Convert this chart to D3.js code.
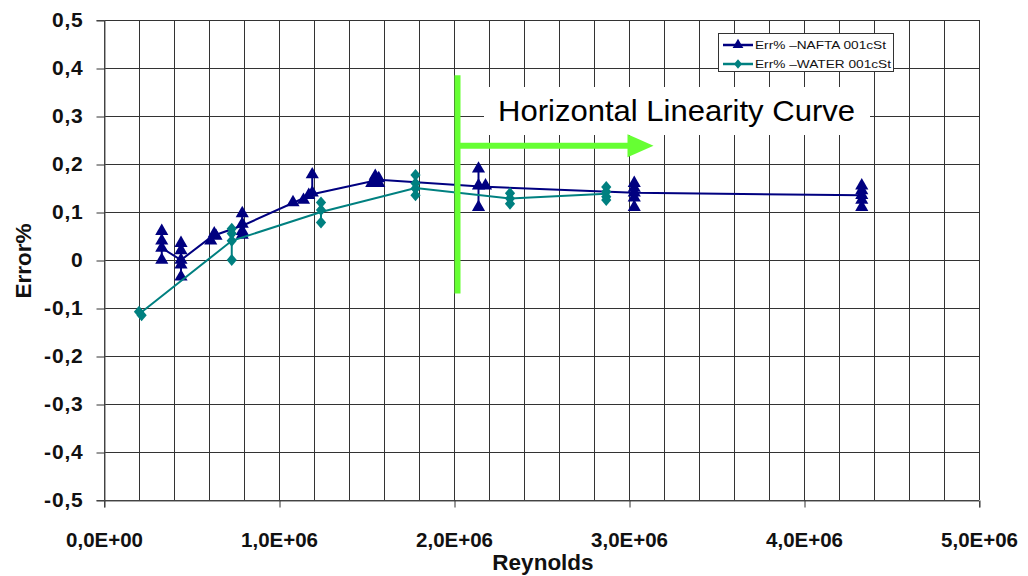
<!DOCTYPE html>
<html>
<head>
<meta charset="utf-8">
<script src="https://cdn.jsdelivr.net/npm/d3@7"></script>
<style>
  html, body { margin: 0; padding: 0; background: #fff; }
  svg { display: block; font-family: Arial, "Liberation Sans", sans-serif; }
</style>
</head>
<body>
<svg id="chart" width="1028" height="576"></svg>
<script>
// ---------- DATA ----------
const yTicks = [-0.5, -0.4, -0.3, -0.2, -0.1, 0, 0.1, 0.2, 0.3, 0.4, 0.5];
const yTickLabels = ["-0,5", "-0,4", "-0,3", "-0,2", "-0,1", "0", "0,1", "0,2", "0,3", "0,4", "0,5"];
const xTicks = [0, 1e6, 2e6, 3e6, 4e6, 5e6];
const xTickLabels = ["0,0E+00", "1,0E+06", "2,0E+06", "3,0E+06", "4,0E+06", "5,0E+06"];
const xMinorStep = 2e5;

// NAFTA measured points (Reynolds, Error%)
const naftaRe  = [3.3e5, 3.3e5, 3.3e5, 3.3e5,
                  4.4e5, 4.4e5, 4.4e5, 4.4e5, 4.4e5,
                  6.1e5, 6.3e5, 6.4e5,
                  7.9e5, 7.9e5, 7.9e5, 7.9e5,
                  1.08e6, 1.14e6, 1.17e6, 1.19e6, 1.19e6,
                  1.53e6, 1.55e6, 1.57e6, 1.57e6,
                  2.14e6, 2.14e6, 2.14e6, 2.18e6,
                  3.03e6, 3.03e6, 3.03e6, 3.03e6, 3.03e6,
                  4.33e6, 4.33e6, 4.33e6, 4.33e6, 4.33e6];
const naftaErr = [0.06, 0.04, 0.025, 0.0,
                  0.035, 0.02, 0.0, -0.01, -0.035,
                  0.04, 0.055, 0.05,
                  0.097, 0.075, 0.06, 0.052,
                  0.12, 0.125, 0.135, 0.178, 0.14,
                  0.16, 0.175, 0.17, 0.16,
                  0.19, 0.155, 0.11, 0.155,
                  0.16, 0.15, 0.14, 0.13, 0.11,
                  0.155, 0.145, 0.135, 0.125, 0.11];
// NAFTA trend line
const naftaLineRe  = [3.3e5, 4.4e5, 6.2e5, 8.0e5, 1.19e6, 1.57e6, 2.15e6, 3.03e6, 4.33e6];
const naftaLineErr = [0.025, 0.0, 0.05, 0.073, 0.137, 0.167, 0.153, 0.14, 0.135];

// WATER measured points
const waterRe  = [2.0e5, 2.15e5,
                  7.3e5, 7.3e5, 7.3e5, 7.3e5,
                  1.24e6, 1.24e6, 1.24e6,
                  1.78e6, 1.78e6, 1.78e6, 1.78e6,
                  2.32e6, 2.32e6, 2.32e6,
                  2.87e6, 2.87e6, 2.87e6, 2.87e6];
const waterErr = [-0.108, -0.115,
                  0.065, 0.055, 0.04, 0.0,
                  0.12, 0.104, 0.078,
                  0.177, 0.16, 0.149, 0.135,
                  0.139, 0.128, 0.117,
                  0.152, 0.142, 0.132, 0.125];
// WATER trend line
const waterLineRe  = [2.1e5, 7.3e5, 1.24e6, 1.78e6, 2.32e6, 2.87e6];
const waterLineErr = [-0.11, 0.04, 0.10, 0.15, 0.128, 0.138];

const seriesNames = ["Err% \u2013NAFTA 001cSt", "Err% \u2013WATER 001cSt"];
const annotationText = "Horizontal Linearity Curve";
const annotationRe = 2.02e6;          // position of vertical green marker
const annotationErrRange = [-0.07, 0.385];
const arrowEndRe = 3.14e6;
const arrowErr = 0.238;

// ---------- DRAW ----------
const svg = d3.select("#chart");
const L = 104, R = 979, T = 20, B = 500;
const x = d3.scaleLinear().domain([0, 5e6]).range([L, R]);
const y = d3.scaleLinear().domain([-0.5, 0.5]).range([B, T]);

const navy = "#000080", teal = "#008080", green = "#66ff33";
const FONT = "Arial, 'Liberation Sans', sans-serif";

// Excel-like diamond marker (nearly square, rotated)
const excelDiamond = {
  draw(ctx, size) {
    const h = Math.sqrt(size) * 0.75, w = h * 0.85;
    ctx.moveTo(0, -h); ctx.lineTo(w, 0); ctx.lineTo(0, h); ctx.lineTo(-w, 0); ctx.closePath();
  }
};

// gridlines
const grid = svg.append("g");
grid.selectAll("line.h").data(yTicks).join("line")
  .attr("x1", L).attr("x2", R)
  .attr("y1", d => Math.round(y(d)) + 0.5).attr("y2", d => Math.round(y(d)) + 0.5)
  .attr("stroke", "#333").attr("stroke-width", 1);
const minor = d3.range(0, 5e6 + 1, xMinorStep);
grid.selectAll("line.v").data(minor).join("line")
  .attr("x1", d => Math.round(x(d)) + 0.5).attr("x2", d => Math.round(x(d)) + 0.5)
  .attr("y1", T).attr("y2", B)
  .attr("stroke", "#333").attr("stroke-width", 1);

// y axis
const yAxis = d3.axisLeft(y).tickValues(yTicks)
  .tickFormat((d, i) => yTickLabels[i]).tickSize(8).tickPadding(13);
const gy = svg.append("g").attr("transform", `translate(${L + 0.5},0)`).call(yAxis);
gy.select(".domain").attr("stroke", "#555");
gy.selectAll(".tick line").attr("stroke", "#333").attr("transform", "translate(0,0.5)");
gy.selectAll(".tick text").attr("font-size", 21).attr("font-weight", "bold")
  .attr("letter-spacing", 0.8).attr("fill", "#111").attr("font-family", FONT);

// x axis
const xAxis = d3.axisBottom(x).tickValues(xTicks)
  .tickFormat((d, i) => xTickLabels[i]).tickSize(7).tickPadding(25);
const gx = svg.append("g").attr("transform", `translate(0,${B + 0.5})`).call(xAxis);
gx.select(".domain").attr("stroke", "#555");
gx.selectAll(".tick line").attr("stroke", "#333").attr("transform", "translate(0.5,0)");
gx.selectAll(".tick text").attr("font-size", 20.5).attr("font-weight", "bold")
  .attr("fill", "#111").attr("font-family", FONT);

// axis titles
svg.append("text").attr("x", 543).attr("y", 570).attr("text-anchor", "middle")
  .attr("font-size", 22.5).attr("font-weight", "bold").attr("fill", "#111").text("Reynolds");
svg.append("text").attr("transform", "translate(31,261) rotate(-90)").attr("text-anchor", "middle")
  .attr("font-size", 22.5).attr("font-weight", "bold").attr("fill", "#111").text("Error%");

// series
function drawSeries(re, err, lineRe, lineErr, color, symbol, size) {
  const pts = re.map((r, i) => [r, err[i]]);
  const linePts = lineRe.map((r, i) => [r, lineErr[i]]);
  const g = svg.append("g");
  g.append("path").datum(linePts)
    .attr("d", d3.line().x(d => x(d[0])).y(d => y(d[1])))
    .attr("fill", "none").attr("stroke", color).attr("stroke-width", 2);
  // vertical connections within each group of equal Reynolds
  const groups = d3.rollups(pts, v => d3.extent(v, d => d[1]), d => d[0]);
  g.selectAll("line.grp").data(groups).join("line")
    .attr("x1", d => x(d[0])).attr("x2", d => x(d[0]))
    .attr("y1", d => y(d[1][0])).attr("y2", d => y(d[1][1]))
    .attr("stroke", color).attr("stroke-width", 2);
  g.selectAll("path.pt").data(pts).join("path")
    .attr("d", d3.symbol().type(symbol).size(size))
    .attr("transform", d => `translate(${x(d[0])},${y(d[1])})`)
    .attr("fill", color);
}
drawSeries(naftaRe, naftaErr, naftaLineRe, naftaLineErr, navy, d3.symbolTriangle, 75);
drawSeries(waterRe, waterErr, waterLineRe, waterLineErr, teal, excelDiamond, 64);

// annotation: white box + text
svg.append("rect").attr("x", 484).attr("y", 87).attr("width", 386).attr("height", 48).attr("fill", "#fff");
svg.append("text").attr("x", 498).attr("y", 121).attr("font-size", 30)
  .attr("textLength", 357).attr("lengthAdjust", "spacingAndGlyphs")
  .attr("fill", "#000").text(annotationText);

// green vertical line and arrow
svg.append("line").attr("x1", x(annotationRe)).attr("x2", x(annotationRe))
  .attr("y1", y(annotationErrRange[1])).attr("y2", y(annotationErrRange[0]))
  .attr("stroke", green).attr("stroke-width", 6);
const ax0 = x(annotationRe), ay = y(arrowErr), ax1 = x(arrowEndRe);
svg.append("line").attr("x1", ax0).attr("x2", ax1 - 24).attr("y1", ay).attr("y2", ay)
  .attr("stroke", green).attr("stroke-width", 6);
svg.append("path").attr("d", `M${ax1 - 26},${ay - 11.5}L${ax1},${ay}L${ax1 - 26},${ay + 11.5}Z`)
  .attr("fill", green);

// legend
const lg = svg.append("g");
lg.append("rect").attr("x", 718.5).attr("y", 33.5).attr("width", 175).attr("height", 38)
  .attr("fill", "#fff").attr("stroke", "#333").attr("stroke-width", 1);
const legendItems = [
  {name: seriesNames[0], color: navy, sym: d3.symbolTriangle, size: 50, len: 131},
  {name: seriesNames[1], color: teal, sym: excelDiamond, size: 40, len: 136}
];
legendItems.forEach((d, i) => {
  const yy = 45 + i * 19;
  lg.append("line").attr("x1", 723).attr("x2", 753).attr("y1", yy).attr("y2", yy)
    .attr("stroke", d.color).attr("stroke-width", 2.5);
  lg.append("path").attr("d", d3.symbol().type(d.sym).size(d.size)())
    .attr("transform", `translate(738,${yy})`).attr("fill", d.color);
  lg.append("text").attr("x", 755).attr("y", yy + 4).attr("font-size", 11.5)
    .attr("textLength", d.len).attr("lengthAdjust", "spacingAndGlyphs")
    .attr("fill", "#111").text(d.name);
});
</script>
</body>
</html>
